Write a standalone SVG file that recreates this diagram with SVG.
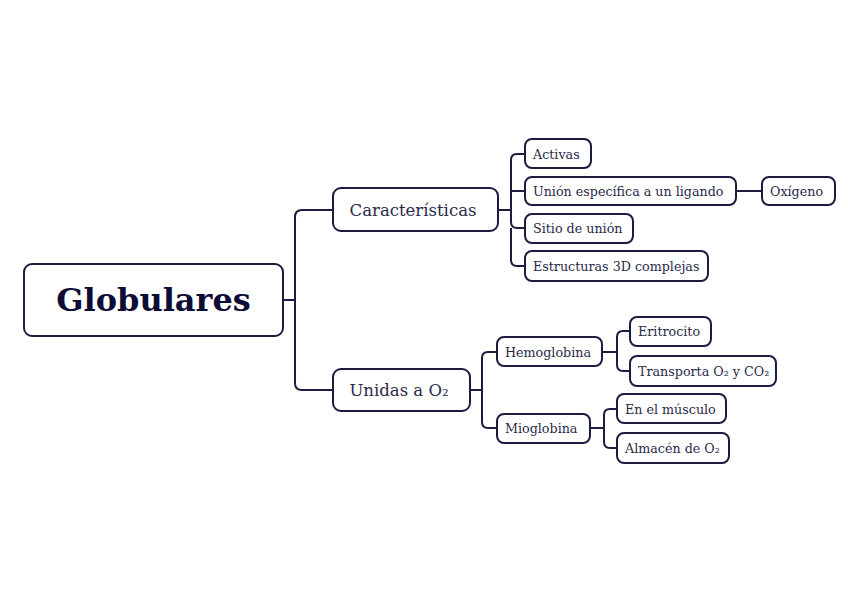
<svg xmlns="http://www.w3.org/2000/svg" width="848" height="599" viewBox="0 0 848 599">
<style>
.box{fill:#fff;stroke:#1c1c40;stroke-width:2}
.c{fill:none;stroke:#1c1c40;stroke-width:2}
text{font-family:"DejaVu Serif","Liberation Serif",serif;fill:#2a2a48;dominant-baseline:central}
.s{font-size:12.7px}
.m{font-size:16.5px;text-anchor:middle}
.r{font-size:32px;font-weight:bold;fill:#0c0c34;text-anchor:middle}
</style>
<rect width="848" height="599" fill="#fff"/>
<g id="connectors">
<path class="c" d="M283 300H295M295 300V217Q295 210 302 210H333M295 300V383Q295 390 302 390H333"/>
<path class="c" d="M498 210H511M511 210V160Q511 154 517 154H525M511 191H525M511 210V222Q511 228 517 228H525M511 228V260Q511 266 517 266H525"/>
<path class="c" d="M736 191H762"/>
<path class="c" d="M470 390H482M482 390V358Q482 352 488 352H497M482 390V422Q482 428 488 428H497"/>
<path class="c" d="M602 352H617M617 352V337Q617 331 623 331H630M617 352V365Q617 371 623 371H630"/>
<path class="c" d="M590 428H604M604 428V415Q604 409 610 409H617M604 428V442Q604 448 610 448H617"/>
</g>
<g id="globulares"><rect class="box" x="24" y="264" width="259" height="72" rx="8"/><text class="r" x="153.5" y="300">Globulares</text></g>
<g id="caracteristicas"><rect class="box" x="333" y="188" width="165" height="43" rx="8"/><text class="m" x="413" y="210">Características</text></g>
<g id="unidas"><rect class="box" x="333" y="369" width="137" height="42" rx="8"/><text class="m" x="399" y="390">Unidas a O₂</text></g>
<g id="activas"><rect class="box" x="525" y="139" width="66" height="29" rx="7"/><text class="s" x="533" y="154">Activas</text></g>
<g id="union"><rect class="box" x="525" y="177" width="211" height="28" rx="7"/><text class="s" x="533" y="191">Unión específica a un ligando</text></g>
<g id="oxigeno"><rect class="box" x="762" y="177" width="73" height="28" rx="7"/><text class="s" x="770" y="191">Oxígeno</text></g>
<g id="sitio"><rect class="box" x="525" y="214" width="108" height="29" rx="7"/><text class="s" x="533" y="228">Sitio de unión</text></g>
<g id="estructuras"><rect class="box" x="525" y="251" width="183" height="30" rx="7"/><text class="s" x="533" y="266">Estructuras 3D complejas</text></g>
<g id="hemoglobina"><rect class="box" x="497" y="337" width="105" height="29" rx="7"/><text class="s" x="505" y="352">Hemoglobina</text></g>
<g id="mioglobina"><rect class="box" x="497" y="414" width="93" height="29" rx="7"/><text class="s" x="505" y="428">Mioglobina</text></g>
<g id="eritrocito"><rect class="box" x="630" y="317" width="81" height="29" rx="7"/><text class="s" x="638" y="331">Eritrocito</text></g>
<g id="transporta"><rect class="box" x="630" y="356" width="146" height="30" rx="7"/><text class="s" x="638" y="371">Transporta O₂ y CO₂</text></g>
<g id="musculo"><rect class="box" x="617" y="394" width="109" height="29" rx="7"/><text class="s" x="625" y="409">En el músculo</text></g>
<g id="almacen"><rect class="box" x="617" y="433" width="112" height="30" rx="7"/><text class="s" x="625" y="448">Almacén de O₂</text></g>
</svg>
